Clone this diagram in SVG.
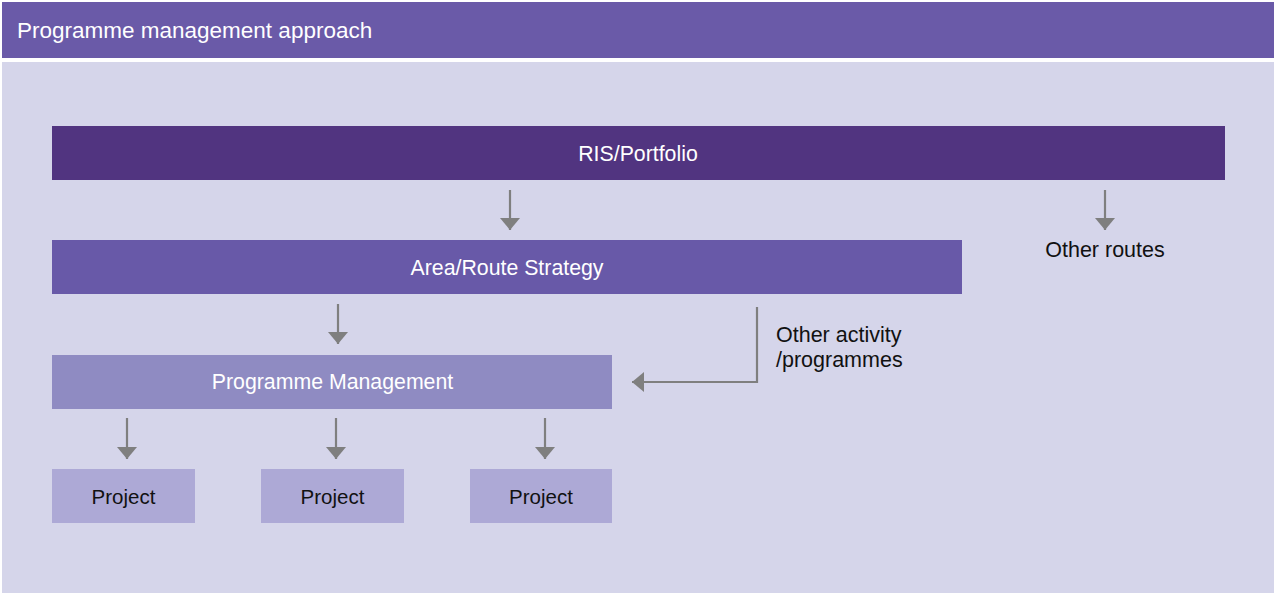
<svg xmlns="http://www.w3.org/2000/svg" width="1275" height="593" viewBox="0 0 1275 593">
  <style>
    .lbl { font-family: "Liberation Sans", Arial, sans-serif; font-size: 20.5px; }
    .side { font-size: 21.5px; }
    .light { fill: #ffffff; font-size: 21.3px; }
    .dark { fill: #111111; }
    .conn { stroke: #7f7f7f; stroke-width: 2.2; fill: none; }
  </style>
  <defs>
    <marker id="head" viewBox="0 0 12 20" refX="12" refY="10" markerWidth="12" markerHeight="20" markerUnits="userSpaceOnUse" orient="auto">
      <path d="M0,0 L12,10 L0,20 Z" fill="#7f7f7f"/>
    </marker>
  </defs>

  <!-- page background -->
  <rect x="0" y="0" width="1275" height="593" fill="#ffffff"/>
  <rect x="2" y="62" width="1272" height="531" fill="#d5d5ea"/>

  <!-- title bar -->
  <g id="title">
    <rect x="2" y="2" width="1272" height="56" fill="#6a5aa8"/>
    <text class="lbl light" x="17" y="38" style="font-size:22.5px">Programme management approach</text>
  </g>

  <g id="ris-portfolio">
    <rect x="52" y="126" width="1173" height="54" fill="#513480"/>
    <text class="lbl light" x="638" y="160.5" text-anchor="middle">RIS/Portfolio</text>
  </g>

  <g id="area-route-strategy">
    <rect x="52" y="240" width="910" height="54" fill="#6859a8"/>
    <text class="lbl light" x="507" y="275" text-anchor="middle">Area/Route Strategy</text>
  </g>

  <g id="programme-management">
    <rect x="52" y="355" width="560" height="54" fill="#8f8bc2"/>
    <text class="lbl light" x="332.5" y="389" text-anchor="middle">Programme Management</text>
  </g>

  <g id="project-1">
    <rect x="52" y="469" width="143" height="54" fill="#ada9d6"/>
    <text class="lbl dark" x="123.5" y="504" text-anchor="middle">Project</text>
  </g>
  <g id="project-2">
    <rect x="261" y="469" width="143" height="54" fill="#ada9d6"/>
    <text class="lbl dark" x="332.5" y="504" text-anchor="middle">Project</text>
  </g>
  <g id="project-3">
    <rect x="470" y="469" width="142" height="54" fill="#ada9d6"/>
    <text class="lbl dark" x="541" y="504" text-anchor="middle">Project</text>
  </g>

  <g id="other-routes">
    <text class="lbl side dark" x="1105" y="256.5" text-anchor="middle">Other routes</text>
  </g>

  <g id="other-activity">
    <text class="lbl side dark" x="776" y="342">Other activity</text>
    <text class="lbl side dark" x="776" y="367">/programmes</text>
  </g>

  <g id="connectors">
    <line class="conn" x1="510" y1="190" x2="510" y2="230" marker-end="url(#head)"/>
    <line class="conn" x1="1105" y1="190" x2="1105" y2="230" marker-end="url(#head)"/>
    <line class="conn" x1="338" y1="304" x2="338" y2="344" marker-end="url(#head)"/>
    <polyline class="conn" points="757,307 757,382 632,382" marker-end="url(#head)"/>
    <line class="conn" x1="127" y1="418" x2="127" y2="459" marker-end="url(#head)"/>
    <line class="conn" x1="336" y1="418" x2="336" y2="459" marker-end="url(#head)"/>
    <line class="conn" x1="545" y1="418" x2="545" y2="459" marker-end="url(#head)"/>
  </g>
</svg>
